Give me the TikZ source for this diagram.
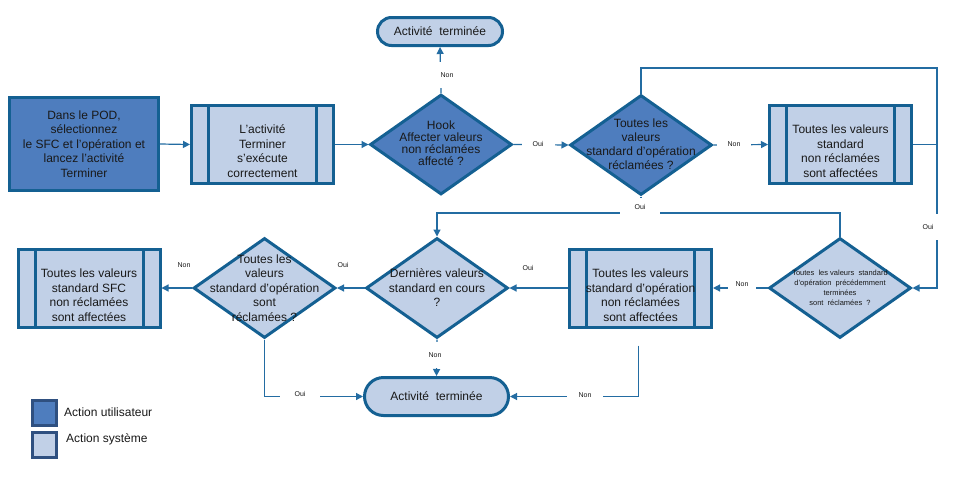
\documentclass[tikz,border=0pt]{standalone}
\usepackage{fontspec}
\setmainfont{Liberation Sans}
\usetikzlibrary{shapes.geometric,arrows.meta}
\definecolor{bordc}{RGB}{20,96,146}
\definecolor{darkf}{RGB}{78,125,190}
\definecolor{lightf}{RGB}{193,208,231}
\definecolor{linec}{RGB}{35,108,162}
\definecolor{legb}{RGB}{47,80,128}
\definecolor{textc}{RGB}{25,25,25}
\begin{document}
\begin{tikzpicture}[x=1pt,y=-1pt,
  box/.style={draw=bordc, line width=3pt, rectangle, inner sep=0pt},
  userbox/.style={box, fill=darkf, minimum width=149, minimum height=93, align=center, text=textc,
    font=\fontsize{12}{14.5}\selectfont},
  sysbox/.style={box, fill=lightf, minimum width=142, minimum height=78,
    path picture={
      \draw[bordc, line width=3pt] ([xshift=17pt]path picture bounding box.north west) -- ([xshift=17pt]path picture bounding box.south west);
      \draw[bordc, line width=3pt] ([xshift=-17pt]path picture bounding box.north east) -- ([xshift=-17pt]path picture bounding box.south east);}},
  dia/.style={draw=bordc, line width=3pt, diamond, inner sep=0pt, minimum width=142, minimum height=100},
  diadark/.style={dia, fill=darkf},
  dialight/.style={dia, fill=lightf},
  term/.style={draw=bordc, line width=3pt, rectangle, fill=lightf, text=textc, inner sep=0pt,
    font=\fontsize{12}{14.5}\selectfont},
  txt/.style={align=center, text=textc, inner sep=0pt, font=\fontsize{12}{14.5}\selectfont},
  conn/.style={draw=linec, line width=1.2pt},
  arr/.style={conn, -{Triangle[length=7pt,width=7pt]}},
  lab/.style={font=\fontsize{7}{8}\selectfont, text=textc, inner sep=0pt},
  gaplab/.style={lab, fill=white},
  legsq/.style={draw=legb, line width=3pt, minimum width=24, minimum height=25, inner sep=0pt},
  legtxt/.style={anchor=west, text=textc, inner sep=0pt, font=\fontsize{12}{14}\selectfont}
]
\useasboundingbox[fill=white] (0,0) rectangle (960,480);

% top row
\node[term, minimum width=125, minimum height=28, rounded corners=14pt] (t1) at (440,31.5) {Activité\ \ terminée};
\node[userbox] (b1) at (84,144) {Dans le POD,\\ sélectionnez\\ le SFC et l'opération et\\ lancez l'activité\\ Terminer};
\node[sysbox] (b2) at (262.5,144.5) {};
\node[txt] (b2t) at (262.5,151) {L'activité\\ Terminer\\ s'exécute\\ correctement};
\node[diadark] (d1) at (441,144.5) {};
\node[txt, font=\fontsize{12}{12}\selectfont] (d1t) at (441,143) {Hook\\ Affecter\ valeurs\\ non réclamées\\ affecté ?};
\node[diadark] (d2) at (641,145) {};
\node[txt, font=\fontsize{12}{14}\selectfont] (d2t) at (641,144) {Toutes les\\ valeurs\\ standard d'opération\\ réclamées ?};
\node[sysbox] (b6) at (840.5,144.5) {};
\node[txt] (b6t) at (840.5,151) {Toutes les valeurs\\ standard\\ non réclamées\\ sont affectées};

% middle row
\node[dialight] (d7) at (840,288) {};
\node[txt, font=\fontsize{7.5}{10}\selectfont] (d7t) at (840,288) {Toutes\ \ les valeurs\ \ standard\\ d'opération\ \ précédemment\\ terminées\\ sont\ \ réclamées\ \ ?};
\node[sysbox] (b8) at (640.5,288) {};
\node[txt] (b8t) at (640.5,295) {Toutes les valeurs\\ standard d'opération\\ non réclamées\\ sont affectées};
\node[dialight] (d9) at (437,288) {};
\node[txt] (d9t) at (437,288) {Dernières valeurs\\ standard en cours\\ ?};
\node[dialight] (d11) at (264.5,288) {};
\node[txt] (d11t) at (264.5,288) {Toutes les\\ valeurs\\ standard d'opération\\ sont\\ réclamées ?};
\node[sysbox] (b12) at (89,288) {};
\node[txt] (b12t) at (89,295) {Toutes les valeurs\\ standard SFC\\ non réclamées\\ sont affectées};

% bottom terminal
\node[term, minimum width=144, minimum height=38, rounded corners=19pt] (t2) at (436.5,396.5) {Activité\ \ terminée};

% legend
\node[legsq, fill=darkf] (l1) at (44.5,413) {};
\node[legsq, fill=lightf] (l2) at (44.5,444.5) {};
\node[legtxt] (l1t) at (64,412) {Action utilisateur};
\node[legtxt] (l2t) at (66,439) {Action système};

% connector coordinates
\coordinate (cR) at (937,68);
\coordinate (hL) at (437,213);

% connectors
\draw[arr] (b1.east) -- (b2.west);
\draw[arr] (b2.east) -- (d1.west);
\draw[arr] (d1.north) -- (t1.south);
\draw[arr] (d1.east) -- (d2.west);
\draw[arr] (d2.east) -- (b6.west);
\draw[arr] (d2.north) |- (cR) |- (d7.east);
\draw[conn] (b6.east) -- (b6.east -| cR);
\draw[conn] (d2.south) -- (d2.south |- hL);
\draw[arr] (d7.north) |- (hL) -- (d9.north);
\draw[arr] (d7.west) -- (b8.east);
\draw[arr] (b8.west) -- (d9.east);
\draw[arr] ([xshift=-2pt,yshift=-17pt]b8.south) |- (t2.east);
\draw[arr] (d9.west) -- (d11.east);
\draw[arr] (d9.south) -- (t2.north);
\draw[arr] (d11.west) -- (b12.east);
\draw[arr] (d11.south) |- (t2.west);

% labels
\node[gaplab, minimum width=22, minimum height=26] (n1) at (447,75) {Non};
\node[gaplab, minimum width=33, minimum height=12] (o1) at (538,144) {Oui};
\node[gaplab, minimum width=34, minimum height=12] (n2) at (734,144) {Non};
\node[gaplab, minimum width=22, minimum height=26] (o2) at (928,227) {Oui};
\node[gaplab, minimum width=40, minimum height=18] (o3) at (640,207) {Oui};
\node[gaplab, minimum width=28, minimum height=14] (n3) at (742,284) {Non};
\node[lab] (o4) at (528,268) {Oui};
\node[gaplab, minimum width=16, minimum height=26] (n4) at (435,355) {Non};
\node[lab] (o5) at (343,265) {Oui};
\node[lab] (n5) at (184,265) {Non};
\node[gaplab, minimum width=40, minimum height=12] (o6) at (300,394) {Oui};
\node[gaplab, minimum width=36, minimum height=12] (n6) at (585,395) {Non};
\end{tikzpicture}
\end{document}
